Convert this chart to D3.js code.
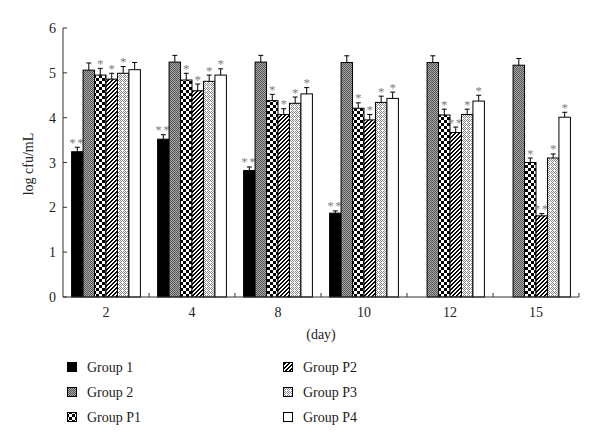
<!DOCTYPE html>
<html><head><meta charset="utf-8">
<script src="https://cdn.jsdelivr.net/npm/d3@7/dist/d3.min.js"></script>
<style>body{margin:0;background:#fff}svg{display:block}text{font-family:"Liberation Serif","DejaVu Serif",serif}</style>
</head><body><svg id="c" width="600" height="446"></svg>
<script>
const days = ["2","4","8","10","12","15"];
const groups = ["Group 1","Group 2","Group P1","Group P2","Group P3","Group P4"];
const values = {
  "Group 1":  [3.24, 3.52, 2.82, 1.87, 0, 0],
  "Group 2":  [5.06, 5.24, 5.24, 5.23, 5.23, 5.17],
  "Group P1": [4.95, 4.84, 4.38, 4.21, 4.06, 3.00],
  "Group P2": [4.86, 4.60, 4.07, 3.95, 3.67, 1.81],
  "Group P3": [4.99, 4.81, 4.32, 4.34, 4.07, 3.10],
  "Group P4": [5.07, 4.95, 4.53, 4.43, 4.37, 4.01]
};
const errors = {
  "Group 1":  [0.10, 0.10, 0.08, 0.05, 0, 0],
  "Group 2":  [0.16, 0.15, 0.15, 0.15, 0.15, 0.15],
  "Group P1": [0.15, 0.15, 0.14, 0.12, 0.13, 0.10],
  "Group P2": [0.13, 0.15, 0.13, 0.12, 0.12, 0.05],
  "Group P3": [0.15, 0.14, 0.14, 0.14, 0.12, 0.09],
  "Group P4": [0.16, 0.14, 0.14, 0.14, 0.13, 0.11]
};
const stars = {
  "Group 1":  ["**","**","**","**","",""],
  "Group 2":  ["","","","","",""],
  "Group P1": ["*","*","*","*","*","*"],
  "Group P2": ["*","*","*","*","**","**"],
  "Group P3": ["*","*","*","*","*","*"],
  "Group P4": ["","*","*","*","*","*"]
};
const yTicks = [0,1,2,3,4,5,6];

const svg = d3.select("#c");
const defs = svg.append("defs");
function pat(id, w, h, bg, on){
  const p = defs.append("pattern").attr("id",id).attr("patternUnits","userSpaceOnUse").attr("width",w).attr("height",h);
  p.append("rect").attr("width",w).attr("height",h).attr("fill",bg);
  for(let yy=0; yy<h; yy++) for(let xx=0; xx<w; xx++){ const c = on(xx,yy); if(c) p.append("rect").attr("x",xx).attr("y",yy).attr("width",1).attr("height",1).attr("fill",c); }
}
pat("pG2",2,2,"#a8a8a8",(x,y)=>(x+y)%2===0?"#555":null);
pat("pP1",6,6,"#fff",(x,y)=>((Math.floor(x/3)+Math.floor(y/3))%2===0)?"#000":null);
pat("pP2",4,4,"#fff",(x,y)=>((x+y)%4===0||(x+y)%4===3)?"#000":null);
pat("pP3",4,4,"#fff",(x,y)=>((x+y)%2===0 && !(x===2&&y===2))?"#8a8a8a":null);
const fills = {"Group 1":"#000","Group 2":"url(#pG2)","Group P1":"url(#pP1)","Group P2":"url(#pP2)","Group P3":"url(#pP3)","Group P4":"#fff"};

const x0 = 63, x1 = 579, yTop = 28, yBot = 297;
const x = d3.scaleBand().domain(days).range([x0,x1]).paddingInner(0.2).paddingOuter(0.1);
const xs = d3.scaleBand().domain(groups).range([0,x.bandwidth()]).padding(0);
const y = d3.scaleLinear().domain([0,6]).range([yBot,yTop]);

const g = svg.append("g");
days.forEach((d,i)=>{
  groups.forEach(s=>{
    const v = values[s][i]; if(!v) return;
    const bx = x(d)+xs(s), bw = xs.bandwidth();
    g.append("rect").attr("x",bx).attr("y",y(v)).attr("width",bw).attr("height",y(0)-y(v))
      .attr("fill",fills[s]).attr("stroke","#000").attr("stroke-width",1);
    const e = errors[s][i], cx = bx+bw/2;
    g.append("line").attr("x1",cx).attr("x2",cx).attr("y1",y(v)).attr("y2",y(v+e)).attr("stroke","#000").attr("stroke-width",1);
    g.append("line").attr("x1",cx-2.5).attr("x2",cx+2.5).attr("y1",y(v+e)).attr("y2",y(v+e)).attr("stroke","#000").attr("stroke-width",1);
    if(stars[s][i]) g.append("text").attr("x",cx).attr("y",y(v+e)-0.5).attr("text-anchor","middle")
      .attr("font-size",13).attr("fill","#808080").attr("letter-spacing",stars[s][i].length>1?1.5:0).text(stars[s][i]);
  });
});

const ax = svg.append("g").attr("stroke","#333").attr("stroke-width",1);
ax.append("line").attr("x1",x0).attr("x2",x0).attr("y1",yTop).attr("y2",yBot);
ax.append("line").attr("x1",x0).attr("x2",x1).attr("y1",yBot).attr("y2",yBot);
yTicks.forEach(t=>ax.append("line").attr("x1",x0).attr("x2",x0+4).attr("y1",y(t)).attr("y2",y(t)));
const step = x.step();
days.forEach((d,i)=>{ const bx = x0 + (i+1)*step; ax.append("line").attr("x1",bx).attr("x2",bx).attr("y1",yBot).attr("y2",yBot-4); });

svg.append("g").selectAll("text").data(yTicks).join("text")
  .attr("x",56).attr("y",t=>y(t)+5).attr("text-anchor","end").attr("font-size",14).attr("fill","#222").text(t=>t);
svg.append("g").selectAll("text").data(days).join("text")
  .attr("x",d=>x(d)+x.bandwidth()/2).attr("y",317).attr("text-anchor","middle").attr("font-size",14).attr("fill","#222").text(d=>d);

svg.append("text").attr("transform","translate(33,164) rotate(-90)").attr("text-anchor","middle").attr("font-size",14).attr("fill","#222").text("log cfu/mL");
svg.append("text").attr("x",321).attr("y",339).attr("text-anchor","middle").attr("font-size",14).attr("fill","#222").text("(day)");

const lg = svg.append("g");
groups.forEach((s,i)=>{
  const col = Math.floor(i/3), row = i%3;
  const lx = col ? 283 : 67, ly = 367 + row*25;
  lg.append("rect").attr("x",lx+0.5).attr("y",ly-4.5).attr("width",9).attr("height",9).attr("fill",fills[s]).attr("stroke","#000").attr("stroke-width",1);
  lg.append("text").attr("x",lx+20).attr("y",ly+5).attr("font-size",14).attr("fill","#222").text(s);
});
</script></body></html>
